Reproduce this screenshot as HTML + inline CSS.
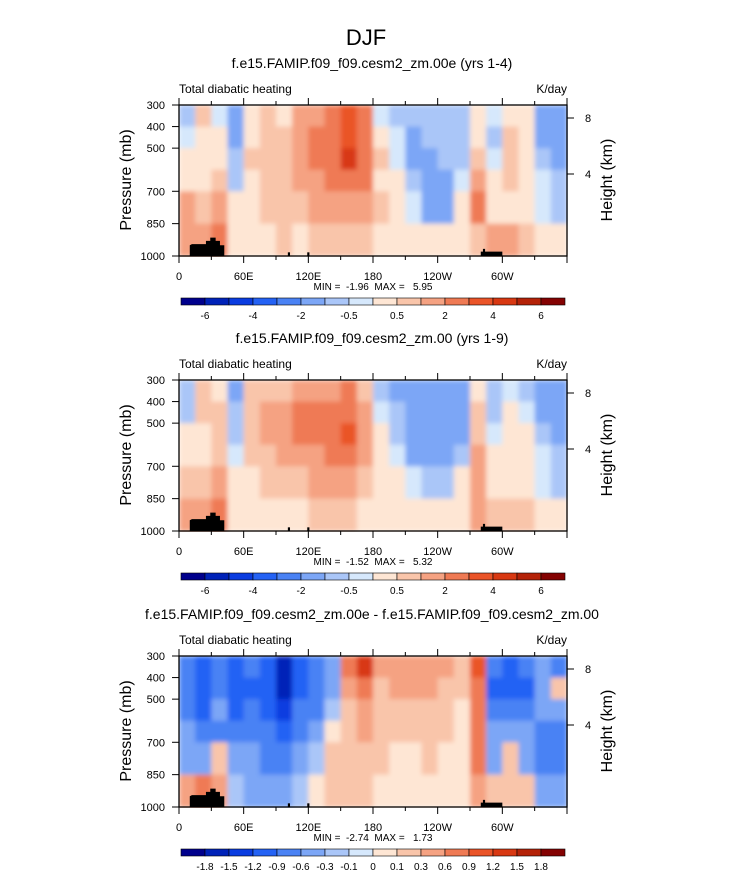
<!DOCTYPE html>
<html><head><meta charset="utf-8"><style>
body{margin:0;background:#fff}
svg text{font-family:"Liberation Sans",sans-serif;fill:#000;white-space:pre}
</style></head><body>
<svg id="c" width="733" height="871" viewBox="0 0 733 871" xmlns="http://www.w3.org/2000/svg">
<defs><filter id="bl" x="0" y="0" width="1" height="1"><feGaussianBlur stdDeviation="2.5" edgeMode="duplicate"/></filter></defs>
</svg>
<script>
// ---- data ----
const lonEdges=[0,15,30,45,60,75,90,105,120,135,150,165,180,195,210,225,240,255,270,285,300,315,330,345,360];
const presEdges=[300,400,500,600,700,850,1000];
// columns: lon bands; each inner array: values from 300 down to 1000 mb
const panel1Values=[
[-0.7,-0.3,0.3,0.5,2,2],[0.7,0.5,0.3,0.5,1,2],[-0.3,0.3,0.5,1,2,3],[-1.5,-1,-0.7,-0.7,0.3,0.3],
[0.5,0.5,0.7,0.5,0.5,0.3],[0.7,1,1,0.7,0.7,0.3],[0.5,1,1,0.7,0.7,0.7],[1.5,2,2,1.5,1,0.5],
[1.5,2.5,2.5,2,1.5,0.7],[3,3,3,2.5,2,1],[3.5,4,4.5,3,2,1],[2.5,3,3,2.5,1.5,0.7],
[-0.3,0.3,0.7,0.5,0.7,0.3],[-0.7,-0.3,-0.2,0.3,0.3,0.2],[-0.7,-1.2,-1.2,-0.7,-0.3,0.3],[-0.7,-0.7,-1,-1.2,-1.2,0.3],
[-0.5,-0.7,-0.7,-1,-1,0.3],[-0.7,-0.7,-0.7,-0.3,0.3,0.5],[0.5,0.5,1,1.5,3,1],[-0.3,-0.5,-0.3,0.5,0.5,1.5],
[0.5,0.7,0.7,0.7,0.5,2],[0.3,0.5,0.3,0.3,0.5,1],[-1,-1,-0.7,-0.3,-0.3,0.3],[-1.5,-1.5,-1.2,-0.7,-0.7,0.3]];
const panel2Values=[
[-0.7,-0.5,0.3,0.5,1,2],[0.7,0.7,0.5,0.5,1,2],[0.3,0.7,0.7,1,2,3],[-1.2,-0.7,-0.5,-0.3,0.3,0.3],
[0.7,1,1,0.7,0.5,0.3],[1,1.5,1.5,1,0.7,0.3],[1,2,2,1.5,0.7,0.5],[2,2.5,2.5,2,1,0.5],
[2,3,3,2,1.5,0.7],[2,3,3,2.5,1.5,0.7],[2.5,3,4,3,1.5,0.7],[1,2,2,1.5,1,0.5],
[-0.7,-0.3,0.3,0.3,0.5,0.3],[-1,-0.7,-0.5,-0.3,0.3,0.3],[-1.2,-1.2,-1.2,-1,-0.3,0.3],[-1.2,-1.2,-1.2,-1.2,-0.7,0.3],
[-1,-1.5,-1.5,-1.2,-0.7,0.3],[-1,-1,-1,-0.5,0.3,0.5],[0.5,0.7,1,1.5,2,1.5],[-0.5,-0.5,-0.3,0.5,0.5,1],
[-0.3,0.3,0.5,0.5,0.5,1],[-0.5,-0.3,0.3,0.3,0.3,0.7],[-1,-1,-0.7,-0.3,-0.3,0.3],[-1.2,-1.2,-1,-0.7,-0.5,0.3]];
const panel3Values=[
[-0.6,-0.6,-0.6,-0.3,-0.3,0.6],[-0.9,-0.9,-0.9,-0.6,-0.3,0.9],[-0.6,-0.6,-0.3,-0.6,0.3,0.6],[-0.9,-0.9,-0.9,-0.6,-0.3,-0.1],
[-0.6,-0.9,-0.6,-0.6,-0.3,-0.3],[-0.9,-0.9,-0.9,-0.6,-0.6,-0.3],[-1.5,-1.5,-1.2,-0.9,-0.6,-0.3],[-0.9,-0.9,-0.6,-0.6,-0.3,-0.1],
[-0.6,-0.6,-0.6,-0.3,-0.1,0.1],[-0.3,-0.3,-0.1,0.1,0.3,0.3],[0.9,0.6,0.3,0.3,0.3,0.3],[1.5,0.9,0.6,0.6,0.3,0.3],
[0.6,0.3,0.3,0.3,0.3,0.1],[0.6,0.6,0.3,0.3,0.1,0.1],[0.6,0.6,0.3,0.3,0.1,0.1],[0.6,0.6,0.3,0.3,0.3,0.1],
[0.6,0.3,0.3,0.3,0.1,0.1],[0.3,0.3,0.1,0.1,0.1,0.1],[1.2,0.9,0.9,0.9,0.9,0.6],[-0.6,-0.9,-0.6,-0.3,-0.3,0.3],
[-0.9,-0.9,-0.6,-0.3,0.3,0.3],[-0.6,-0.9,-0.6,-0.3,-0.3,0.3],[-0.3,-0.3,-0.3,-0.6,-0.6,-0.3],[-0.6,0.3,-0.3,-0.6,-0.6,-0.3]];
const levelsMain=[-6,-5,-4,-3,-2,-1,-0.5,0,0.5,1,2,3,4,5,6];
const levelsDiff=[-1.8,-1.5,-1.2,-0.9,-0.6,-0.3,-0.1,0,0.1,0.3,0.6,0.9,1.2,1.5,1.8];
const labelsMain=["-6","","-4","","-2","","-0.5","","0.5","","2","","4","","6"];
const labelsDiff=["-1.8","-1.5","-1.2","-0.9","-0.6","-0.3","-0.1","0","0.1","0.3","0.6","0.9","1.2","1.5","1.8"];
const xTickLabels=["0","60E","120E","180","120W","60W"];
const xTickLons=[0,60,120,180,240,300];
const yTickLabels=["300","400","500","700","850","1000"];
const yTickVals=[300,400,500,700,850,1000];
const palette=["#00008c","#0022b8","#0a3ce0","#2462f4","#4a82f4","#7ca6f6","#aac6f8","#d6e8fc","#fee6d4","#f9c5aa","#f5a282","#ef7a54","#ea5428","#d83812","#b42208","#840202"];

const S=document.getElementById('c');
const NS="http://www.w3.org/2000/svg";
function mk(t,a,p){const e=document.createElementNS(NS,t);for(const k in a)e.setAttribute(k,a[k]);(p||S).appendChild(e);return e;}
function txt(s,x,y,size,anchor,p){const e=mk('text',{x:x,y:y,'font-size':size,'text-anchor':anchor||'middle'},p);e.textContent=s;return e;}
const X0=179,X1=567;
function xs(lon){return X0+(X1-X0)*lon/360;}
function colorOf(v,lev){let i=0;while(i<lev.length&&v>lev[i])i++;return palette[i];}

txt("DJF",366,45,22,'middle');

const panels=[
 {top:105,title:"f.e15.FAMIP.f09_f09.cesm2_zm.00e (yrs 1-4)",vals:panel1Values,lev:levelsMain,lab:labelsMain,mm:"MIN =  -1.96  MAX =   5.95",name:"panel-1"},
 {top:380,title:"f.e15.FAMIP.f09_f09.cesm2_zm.00 (yrs 1-9)",vals:panel2Values,lev:levelsMain,lab:labelsMain,mm:"MIN =  -1.52  MAX =   5.32",name:"panel-2"},
 {top:656,title:"f.e15.FAMIP.f09_f09.cesm2_zm.00e - f.e15.FAMIP.f09_f09.cesm2_zm.00",vals:panel3Values,lev:levelsDiff,lab:labelsDiff,mm:"MIN =  -2.74  MAX =   1.73",name:"panel-3"}];

panels.forEach((P,pi)=>{
 const g=mk('g',{});
 
 
 const T=P.top,B=T+151;
 function ys(p){return T+(B-T)*(p-300)/700;}
 const t=txt(P.title,372,T-37,14,'middle',g);
 
 const l=txt("Total diabatic heating",179,T-12,12,'start',g);
 
 const u=txt("K/day",567,T-12,12,'end',g);
 
 // cells
 const cg=mk('g',{filter:'url(#bl)'},g);
 
 
 P.vals.forEach((col,i)=>{col.forEach((v,j)=>{
  const r=mk('rect',{x:xs(lonEdges[i]),y:ys(presEdges[j]),width:xs(lonEdges[i+1])-xs(lonEdges[i])+0.6,height:ys(presEdges[j+1])-ys(presEdges[j])+0.6,fill:colorOf(v,P.lev)},cg);
  
  
 });});
 // topography
 const topo=[[10,950],[12,945],[25,945],[25,930],[29,930],[29,915],[34,915],[34,930],[38,930],[38,950],[42,950],[42,1000],[10,1000]];
 const tp=mk('polygon',{points:topo.map(q=>xs(q[0])+','+ys(q[1])).join(' '),fill:'#000'},g);
 
 [[101,103],[119,121]].forEach(a=>{const r=mk('rect',{x:xs(a[0]),y:ys(983),width:xs(a[1])-xs(a[0]),height:ys(1000)-ys(983),fill:'#000'},g);});
 const sa=[[280,1000],[280,980],[282,980],[282,967],[284,967],[284,980],[300,980],[300,1000]];
 const sp=mk('polygon',{points:sa.map(q=>xs(q[0])+','+ys(q[1])).join(' '),fill:'#000'},g);
 
 // frame
 const f=mk('rect',{x:X0,y:T,width:X1-X0,height:B-T,fill:'none',stroke:'#000','stroke-width':1.3},g);
 
 for(let lon=0;lon<=360;lon+=30){const maj=lon%60==0;const L=maj?7:4;
  mk('line',{x1:xs(lon),x2:xs(lon),y1:B,y2:B+L,stroke:'#000'},g);
  mk('line',{x1:xs(lon),x2:xs(lon),y1:T,y2:T-L,stroke:'#000'},g);}
 xTickLabels.forEach((s,i)=>{const e=txt(s,xs(xTickLons[i]),B+24,11,'middle',g);});
 yTickVals.forEach((p,i)=>{mk('line',{x1:X0-7,x2:X0,y1:ys(p),y2:ys(p),stroke:'#000'},g);
  const e=txt(yTickLabels[i],X0-14,ys(p)+4,11,'end',g);});
 [[8,T+13],[4,T+69]].forEach(h=>{mk('line',{x1:X1,x2:X1+7,y1:h[1],y2:h[1],stroke:'#000'},g);
  const e=txt(String(h[0]),X1+18,h[1]+4,11,'start',g);});
 const yt=txt("Pressure (mb)",0,0,16,'middle',g);yt.setAttribute('transform','translate(131,'+(T+75)+') rotate(-90)');
 
 const ht=txt("Height (km)",0,0,16,'middle',g);ht.setAttribute('transform','translate(612,'+(T+75)+') rotate(-90)');
 
 const mm=txt(P.mm,373,B+34,10,'middle',g);
 // colorbar
 const cy=B+42,cw=24,cx=181;
 palette.forEach((c,i)=>{const r=mk('rect',{x:cx+i*cw,y:cy,width:cw,height:7,fill:c,stroke:'#000','stroke-width':0.6},g);
  });
 P.lab.forEach((s,i)=>{if(!s)return;const e=txt(s,cx+(i+1)*cw,cy+21,10,'middle',g);});
});
</script>
</body></html>
